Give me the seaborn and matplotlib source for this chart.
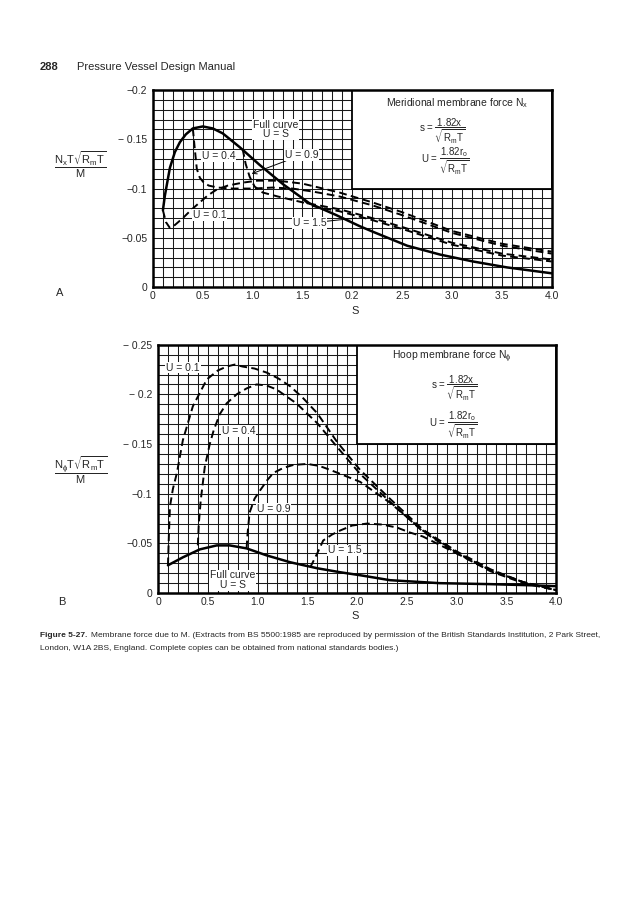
import matplotlib
matplotlib.use("Agg")
import matplotlib.pyplot as plt
from matplotlib.patches import Rectangle
from matplotlib.ticker import MultipleLocator, FixedLocator, FixedFormatter
import seaborn as sns

# Panel A - meridional membrane force
a_full_s = [0.10, 0.12, 0.17, 0.22, 0.27, 0.33, 0.40, 0.50, 0.60, 0.70, 0.87, 1.07, 1.31, 1.57,
            1.84, 2.07, 2.21, 2.55, 2.88, 3.21, 3.55, 4.00]
a_full_n = [-0.078, -0.093, -0.121, -0.137, -0.147, -0.155, -0.161, -0.163, -0.161, -0.156, -0.142,
            -0.124, -0.104, -0.085, -0.073, -0.062, -0.056, -0.042, -0.033, -0.026, -0.020, -0.014]
a_u01_s = [0.10, 0.13, 0.17, 0.22, 0.30, 0.38, 0.47, 0.55, 0.64, 0.75, 0.90, 1.05, 1.25, 1.50,
           1.87, 2.20, 2.50, 3.00, 3.50, 4.00]
a_u01_n = [-0.078, -0.066, -0.060, -0.063, -0.070, -0.078, -0.086, -0.093, -0.099, -0.103, -0.106,
           -0.108, -0.108, -0.105, -0.096, -0.086, -0.076, -0.057, -0.044, -0.036]
a_u04_s = [0.40, 0.42, 0.44, 0.47, 0.51, 0.56, 0.65, 0.80, 1.00, 1.20, 1.40, 1.60, 1.87, 2.20,
           2.50, 3.00, 3.50, 4.00]
a_u04_n = [-0.161, -0.140, -0.120, -0.111, -0.106, -0.103, -0.101, -0.100, -0.100, -0.101, -0.100,
           -0.097, -0.092, -0.083, -0.073, -0.055, -0.042, -0.034]
a_u09_s = [0.90, 0.93, 0.97, 1.02, 1.10, 1.25, 1.50, 1.87, 2.20, 2.50, 3.00, 3.50, 4.00]
a_u09_n = [-0.140, -0.125, -0.112, -0.102, -0.096, -0.092, -0.086, -0.079, -0.070, -0.061, -0.045,
           -0.034, -0.028]
a_u15_s = [1.50, 1.56, 1.65, 1.87, 2.20, 2.50, 3.00, 3.50, 4.00]
a_u15_n = [-0.090, -0.084, -0.081, -0.077, -0.068, -0.059, -0.043, -0.032, -0.026]

# Panel B - hoop membrane force
b_full_s = [0.10, 0.25, 0.42, 0.59, 0.72, 0.89, 1.09, 1.33, 1.60, 1.83, 2.03, 2.33, 2.83, 3.34,
            3.70, 4.00]
b_full_n = [-0.028, -0.036, -0.044, -0.048, -0.048, -0.045, -0.038, -0.031, -0.025, -0.021, -0.018,
            -0.013, -0.010, -0.009, -0.008, -0.007]
b_u01_s = [0.10, 0.11, 0.12, 0.15, 0.19, 0.25, 0.35, 0.49, 0.60, 0.69, 0.77, 0.85, 0.97, 1.09,
           1.21, 1.33, 1.46, 1.60, 1.80, 2.03, 2.33, 2.66, 3.00, 3.34, 3.67, 4.00]
b_u01_n = [-0.028, -0.060, -0.087, -0.105, -0.121, -0.154, -0.188, -0.215, -0.224, -0.228, -0.230,
           -0.228, -0.226, -0.222, -0.216, -0.208, -0.196, -0.181, -0.152, -0.124, -0.095, -0.064,
           -0.042, -0.024, -0.011, -0.003]
b_u04_s = [0.40, 0.41, 0.43, 0.47, 0.52, 0.56, 0.62, 0.69, 0.79, 0.89, 0.99, 1.09, 1.19, 1.39,
           1.60, 1.80, 2.03, 2.33, 2.66, 3.00, 3.34, 3.67, 4.00]
b_u04_n = [-0.048, -0.070, -0.094, -0.127, -0.150, -0.164, -0.180, -0.191, -0.200, -0.206, -0.210,
           -0.209, -0.205, -0.191, -0.171, -0.147, -0.120, -0.092, -0.062, -0.040, -0.022, -0.010,
           -0.003]
b_u09_s = [0.89, 0.90, 0.92, 0.97, 1.03, 1.10, 1.16, 1.26, 1.36, 1.50, 1.62, 1.73, 2.03, 2.33,
           2.66, 3.00, 3.34, 3.67, 4.00]
b_u09_n = [-0.045, -0.060, -0.081, -0.095, -0.104, -0.114, -0.121, -0.126, -0.129, -0.130, -0.128,
           -0.124, -0.112, -0.091, -0.063, -0.041, -0.023, -0.011, -0.003]
b_u15_s = [1.53, 1.60, 1.66, 1.75, 1.83, 1.95, 2.10, 2.25, 2.40, 2.53, 2.66, 3.00, 3.34, 3.67, 4.00]
b_u15_n = [-0.026, -0.040, -0.053, -0.059, -0.063, -0.068, -0.070, -0.069, -0.066, -0.061, -0.057,
           -0.040, -0.023, -0.011, -0.003]

x_ticks = [0, 0.5, 1.0, 1.5, 2.0, 2.5, 3.0, 3.5, 4.0]
a_x_labels = ["0", "0.5", "1.0", "1.5", "0.2", "2.5", "3.0", "3.5", "4.0"]  # misprint kept
b_x_labels = ["0", "0.5", "1.0", "1.5", "2.0", "2.5", "3.0", "3.5", "4.0"]
a_y_ticks = [0, -0.05, -0.1, -0.15, -0.2]
a_y_labels = ["0", "\u22120.05", "\u22120.1", "\u2212 0.15", "\u22120.2"]
b_y_ticks = [0, -0.05, -0.1, -0.15, -0.2, -0.25]
b_y_labels = ["0", "\u22120.05", "\u22120.1", "\u2212 0.15", "\u2212 0.2", "\u2212 0.25"]

sns.set_style("white")
plt.rcParams["font.family"] = ["Liberation Sans", "DejaVu Sans"]
plt.rcParams["mathtext.default"] = "regular"

fig = plt.figure(figsize=(6.32, 9.0), dpi=100)
ax_a = fig.add_axes([0.242, 0.681, 0.631, 0.219])
ax_b = fig.add_axes([0.250, 0.341, 0.630, 0.276])

DASH = (4, 2.2)
LABEL_BOX = dict(facecolor="white", edgecolor="none", pad=0.6)
S_FRAC = r"s = $\dfrac{1.82x}{\sqrt{R_mT}}$"
U_FRAC = r"U = $\dfrac{1.82r_o}{\sqrt{R_mT}}$"


def setup_panel(ax, ymin, ticks, labels, xlabels, box_bottom):
    ax.set_xlim(0, 4)
    ax.set_ylim(0, ymin)  # inverted: most negative on top
    ax.xaxis.set_major_locator(FixedLocator(x_ticks))
    ax.xaxis.set_major_formatter(FixedFormatter(xlabels))
    ax.xaxis.set_minor_locator(MultipleLocator(0.1))
    ax.yaxis.set_major_locator(FixedLocator(ticks))
    ax.yaxis.set_major_formatter(FixedFormatter(labels))
    ax.yaxis.set_minor_locator(MultipleLocator(0.01))
    ax.grid(which="both", color="#1a1a1a", lw=0.75, zorder=1)
    ax.set_axisbelow(True)
    ax.tick_params(which="both", length=0, labelsize=7.5)
    ax.tick_params(axis="x", pad=2.5)
    ax.tick_params(axis="y", pad=4)
    for sp in ax.spines.values():
        sp.set_linewidth(1.8)
        sp.set_color("black")
    # blank panel in the upper right that carries the title and formulas
    ax.add_patch(Rectangle((2.0, box_bottom), 2.0, ymin - box_bottom, facecolor="white",
                           edgecolor="black", lw=1.3, zorder=2))
    ax.set_xlabel("")
    ax.set_ylabel("")


def draw_curves(ax, curves):
    for s, n, solid in curves:
        if solid:
            sns.lineplot(x=s, y=n, ax=ax, color="black", lw=1.8, sort=False,
                         estimator=None, zorder=4)
        else:
            sns.lineplot(x=s, y=n, ax=ax, color="black", lw=1.4, sort=False,
                         estimator=None, zorder=4).lines[-1].set_dashes(DASH)


# ---- Panel A ----
setup_panel(ax_a, -0.2, a_y_ticks, a_y_labels, a_x_labels, -0.1)
draw_curves(ax_a, [(a_full_s, a_full_n, True), (a_u01_s, a_u01_n, False),
                   (a_u04_s, a_u04_n, False), (a_u09_s, a_u09_n, False),
                   (a_u15_s, a_u15_n, False)])
ax_a.text(1.23, -0.160, "Full curve\nU = S", fontsize=7.5, ha="center", va="center",
          linespacing=0.95, bbox=LABEL_BOX, zorder=5)
ax_a.text(0.66, -0.133, "U = 0.4", fontsize=7.5, ha="center", va="center", bbox=LABEL_BOX, zorder=5)
ax_a.annotate("U = 0.9", xy=(0.99, -0.115), xytext=(1.49, -0.134), fontsize=7.5,
              ha="center", va="center", bbox=LABEL_BOX, zorder=5,
              arrowprops=dict(arrowstyle="->", color="black", lw=0.7, shrinkA=0, shrinkB=0))
ax_a.text(0.57, -0.073, "U = 0.1", fontsize=7.5, ha="center", va="center", bbox=LABEL_BOX, zorder=5)
ax_a.annotate("U = 1.5", xy=(2.04, -0.070), xytext=(1.57, -0.065), fontsize=7.5,
              ha="center", va="center", bbox=LABEL_BOX, zorder=5,
              arrowprops=dict(arrowstyle="-", color="black", lw=0.7, shrinkA=0, shrinkB=0))
ax_a.text(3.05, -0.187, "Meridional membrane force N$_x$", fontsize=7.5, ha="center",
          va="center", zorder=5)
ax_a.text(2.90, -0.158, S_FRAC, fontsize=7, ha="center", va="center", zorder=5)
ax_a.text(2.93, -0.127, U_FRAC, fontsize=7, ha="center", va="center", zorder=5)

# ---- Panel B ----
setup_panel(ax_b, -0.25, b_y_ticks, b_y_labels, b_x_labels, -0.15)
draw_curves(ax_b, [(b_full_s, b_full_n, True), (b_u01_s, b_u01_n, False),
                   (b_u04_s, b_u04_n, False), (b_u09_s, b_u09_n, False),
                   (b_u15_s, b_u15_n, False)])
ax_b.text(0.25, -0.227, "U = 0.1", fontsize=7.5, ha="center", va="center", bbox=LABEL_BOX, zorder=5)
ax_b.text(0.81, -0.163, "U = 0.4", fontsize=7.5, ha="center", va="center", bbox=LABEL_BOX, zorder=5)
ax_b.text(1.16, -0.085, "U = 0.9", fontsize=7.5, ha="center", va="center", bbox=LABEL_BOX, zorder=5)
ax_b.text(1.88, -0.043, "U = 1.5", fontsize=7.5, ha="center", va="center", bbox=LABEL_BOX, zorder=5)
ax_b.text(0.75, -0.013, "Full curve\nU = S", fontsize=7.5, ha="center", va="center",
          linespacing=0.95, bbox=LABEL_BOX, zorder=5)
ax_b.text(2.95, -0.238, "Hoop membrane force N$_\\phi$", fontsize=7.5, ha="center",
          va="center", zorder=5)
ax_b.text(2.98, -0.206, S_FRAC, fontsize=7, ha="center", va="center", zorder=5)
ax_b.text(2.97, -0.169, U_FRAC, fontsize=7, ha="center", va="center", zorder=5)

# axis titles, panel letters
fig.text(0.562, 0.655, "S", fontsize=8, ha="center", va="center")
fig.text(0.562, 0.316, "S", fontsize=8, ha="center", va="center")
fig.text(0.127, 0.817, r"$\dfrac{N_xT\sqrt{R_mT}}{M}$", fontsize=8, ha="center", va="center")
fig.text(0.127, 0.478, r"$\dfrac{N_\phi T\sqrt{R_mT}}{M}$", fontsize=8, ha="center", va="center")
fig.text(0.095, 0.675, "A", fontsize=8, ha="center", va="center")
fig.text(0.098, 0.331, "B", fontsize=8, ha="center", va="center")

# page header and caption
fig.text(0.063, 0.925, "288", fontsize=8, fontweight="bold", va="center")
fig.text(0.122, 0.925, "Pressure Vessel Design Manual", fontsize=8, va="center")
cap = fig.text(0.063, 0.290, "Figure 5-27.", fontsize=6, fontweight="bold", va="bottom")
plt.annotate("Membrane force due to M. (Extracts from BS 5500:1985 are reproduced by permission "
             "of the British Standards Institution, 2 Park Street,",
             xy=(1, 0), xycoords=cap, xytext=(3, 0), textcoords="offset points",
             fontsize=6, va="bottom", annotation_clip=False)
fig.text(0.063, 0.276, "London, W1A 2BS, England. Complete copies can be obtained from national "
         "standards bodies.)", fontsize=6, va="bottom")

fig.savefig("out.png", dpi=100)
